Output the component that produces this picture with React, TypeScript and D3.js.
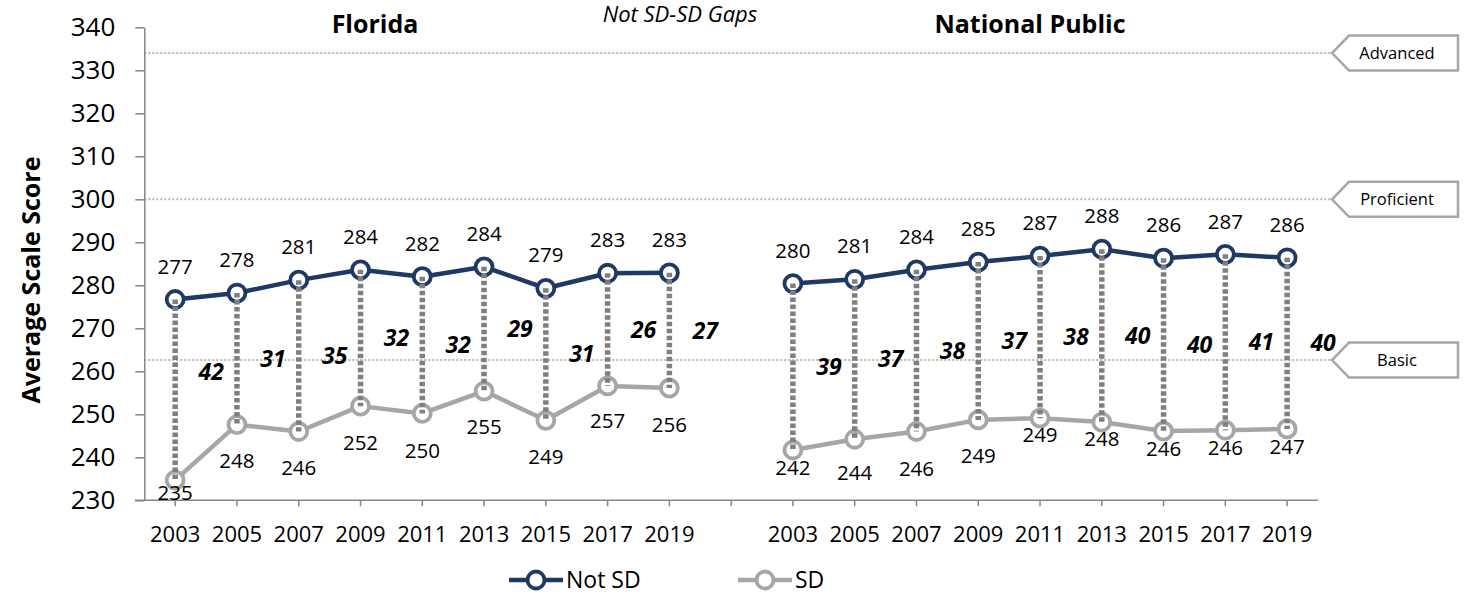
import React, { useEffect, useRef } from 'react';
import * as d3 from 'd3';

// NAEP grade 8 average scale scores, SD vs Not SD
const years = ['2003', '2005', '2007', '2009', '2011', '2013', '2015', '2017', '2019'];

const flNotSD = [276.7, 278.2, 281.2, 283.6, 282.0, 284.3, 279.3, 282.8, 282.9];
const flSD = [234.7, 247.6, 246.0, 251.9, 250.2, 255.4, 248.6, 256.6, 256.1];
const flGap = [42, 31, 35, 32, 32, 29, 31, 26, 27];

const npNotSD = [280.4, 281.4, 283.6, 285.4, 286.8, 288.4, 286.3, 287.2, 286.4];
const npSD = [241.7, 244.2, 246.0, 248.7, 249.1, 248.2, 246.1, 246.3, 246.6];
const npGap = [39, 37, 38, 37, 38, 40, 40, 41, 40];

const levelNames = ['Advanced', 'Proficient', 'Basic'];
const levelScores = [334, 300, 262.6];

const yTicks = [230, 240, 250, 260, 270, 280, 290, 300, 310, 320, 330, 340];

const NAVY = '#1f3864';
const GRAY = '#a6a6a6';
const FONT = '"Open Sans", "Liberation Sans", sans-serif';

const App: React.FC = () => {
    const svgRef = useRef<SVGSVGElement>(null);

    useEffect(() => {
        document.body.style.margin = '0';
        const svg = d3.select(svgRef.current);
        svg.selectAll('*').remove();
        svg.style('font-family', FONT);

        const cats = [...years.map(y => 'FL' + y), 'blank', ...years.map(y => 'NP' + y)];
        const x = d3.scaleBand().domain(cats).range([144.3, 1318]).padding(0);
        const cx = (k: string) => (x(k) || 0) + x.bandwidth() / 2;
        const y = d3.scaleLinear().domain([230, 340]).range([500.3, 27.3]);

        // performance level reference lines + callouts
        levelScores.forEach((s, i) => {
            const ly = y(s);
            svg.append('line')
                .attr('x1', 144.3).attr('x2', 1332)
                .attr('y1', ly).attr('y2', ly)
                .attr('stroke', '#bdb4a6').attr('stroke-width', 2)
                .attr('stroke-dasharray', '2 2');
            const h = 17.5;
            svg.append('path')
                .attr('d', `M1332,${ly} L1349,${ly - h} L1458,${ly - h} L1458,${ly + h} L1349,${ly + h} Z`)
                .attr('fill', '#fff').attr('stroke', GRAY).attr('stroke-width', 2.5);
            svg.append('text')
                .attr('x', 1397).attr('y', ly).attr('dy', '0.35em')
                .attr('text-anchor', 'middle')
                .attr('font-size', 16.5)
                .text(levelNames[i]);
        });

        // y axis
        const yAxis = svg.append('g')
            .attr('transform', 'translate(144.3,0)')
            .call(d3.axisLeft(y).tickValues(yTicks).tickSize(9).tickSizeOuter(0).tickPadding(20).tickFormat(d3.format('d')));
        yAxis.select('.domain').attr('stroke', '#868686').attr('stroke-width', 1.5);
        yAxis.selectAll('.tick line').attr('stroke', '#868686').attr('stroke-width', 1.5);
        yAxis.selectAll('.tick text').attr('font-size', 26).attr('font-family', FONT).attr('fill', '#000');

        // x axis
        const xAxis = svg.append('g')
            .attr('transform', 'translate(0,500.3)')
            .call(d3.axisBottom(x).tickSize(6).tickPadding(20).tickFormat(d => d === 'blank' ? '' : String(d).slice(2)));
        xAxis.select('.domain').remove();
        xAxis.selectAll('.tick line').attr('stroke', '#868686').attr('stroke-width', 1.5);
        xAxis.selectAll('.tick text').attr('font-size', 22).attr('font-family', FONT).attr('fill', '#000');
        svg.append('line')
            .attr('x1', 135).attr('x2', 1318).attr('y1', 500.3).attr('y2', 500.3)
            .attr('stroke', '#868686').attr('stroke-width', 1.5);

        const groups = [
            { prefix: 'FL', notSD: flNotSD, sd: flSD, gap: flGap, sdDy: [13, 36, 36, 37, 37, 36, 37, 35, 37], gapDy: [-18, 0, 0, 0, 0, 0, 0, 0, 0] },
            { prefix: 'NP', notSD: npNotSD, sd: npSD, gap: npGap, sdDy: [18, 34, 37, 36, 17, 17, 18, 18, 18], gapDy: [0, 0, 0, 0, 0, 0, 0, 0, 0] },
        ];

        groups.forEach(g => {
            const keys = years.map(yr => g.prefix + yr);
            const line = d3.line<number>().x((d, i) => cx(keys[i])).y(d => y(d));

            [{ vals: g.notSD, color: NAVY }, { vals: g.sd, color: GRAY }].forEach(s => {
                svg.append('path')
                    .attr('d', line(s.vals))
                    .attr('fill', 'none').attr('stroke', s.color).attr('stroke-width', 4.5)
                    .attr('stroke-linejoin', 'round');
                svg.selectAll(null)
                    .data(s.vals).enter().append('circle')
                    .attr('cx', (d, i) => cx(keys[i]))
                    .attr('cy', d => y(d))
                    .attr('r', 8.5)
                    .attr('fill', '#fff').attr('stroke', s.color).attr('stroke-width', 3.8);
            });

            // gap drop lines
            svg.selectAll(null)
                .data(g.notSD).enter().append('line')
                .attr('x1', (d, i) => cx(keys[i])).attr('x2', (d, i) => cx(keys[i]))
                .attr('y1', d => y(d)).attr('y2', (d, i) => y(g.sd[i]))
                .attr('stroke', '#7f7f7f').attr('stroke-width', 5.5)
                .attr('stroke-dasharray', '4.5 2.5');

            // value labels
            svg.selectAll(null)
                .data(g.notSD).enter().append('text')
                .attr('x', (d, i) => cx(keys[i])).attr('y', d => y(d) - 33).attr('dy', '0.35em')
                .attr('text-anchor', 'middle').attr('font-size', 20.5)
                .text(d => Math.round(d));
            svg.selectAll(null)
                .data(g.sd).enter().append('text')
                .attr('x', (d, i) => cx(keys[i])).attr('y', (d, i) => y(d) + g.sdDy[i]).attr('dy', '0.35em')
                .attr('text-anchor', 'middle').attr('font-size', 20.5)
                .text(d => Math.round(d));

            // gap labels
            svg.selectAll(null)
                .data(g.gap).enter().append('text')
                .attr('x', (d, i) => cx(keys[i]) + 36)
                .attr('y', (d, i) => (y(g.notSD[i]) + y(g.sd[i])) / 2 + g.gapDy[i])
                .attr('dy', '0.35em')
                .attr('text-anchor', 'middle').attr('font-size', 23)
                .attr('font-weight', 'bold').attr('font-style', 'italic')
                .text(d => d);
        });

        // titles
        svg.append('text').attr('x', 375).attr('y', 33).attr('text-anchor', 'middle')
            .attr('font-size', 25).attr('font-weight', 'bold').text('Florida');
        svg.append('text').attr('x', 1030).attr('y', 33).attr('text-anchor', 'middle')
            .attr('font-size', 25).attr('font-weight', 'bold').text('National Public');
        svg.append('text').attr('x', 680).attr('y', 22).attr('text-anchor', 'middle')
            .attr('font-size', 22).attr('font-style', 'italic').text('Not SD-SD Gaps');
        svg.append('text')
            .attr('transform', 'translate(31,280) rotate(-90)')
            .attr('text-anchor', 'middle').attr('dy', '0.35em').attr('font-size', 25).attr('font-weight', 'bold')
            .text('Average Scale Score');

        // legend
        const legend = [{ name: 'Not SD', color: NAVY, x0: 509 }, { name: 'SD', color: GRAY, x0: 738 }];
        legend.forEach(l => {
            const ly = 580;
            svg.append('line').attr('x1', l.x0).attr('x2', l.x0 + 54).attr('y1', ly).attr('y2', ly)
                .attr('stroke', l.color).attr('stroke-width', 4.5);
            svg.append('circle').attr('cx', l.x0 + 27).attr('cy', ly).attr('r', 8.5)
                .attr('fill', '#fff').attr('stroke', l.color).attr('stroke-width', 3.8);
            svg.append('text').attr('x', l.x0 + 57).attr('y', ly).attr('dy', '0.35em')
                .attr('font-size', 23).text(l.name);
        });
    }, []);

    return <svg ref={svgRef} width={1471} height={598} style={{ display: 'block' }}></svg>;
};

export default App;
